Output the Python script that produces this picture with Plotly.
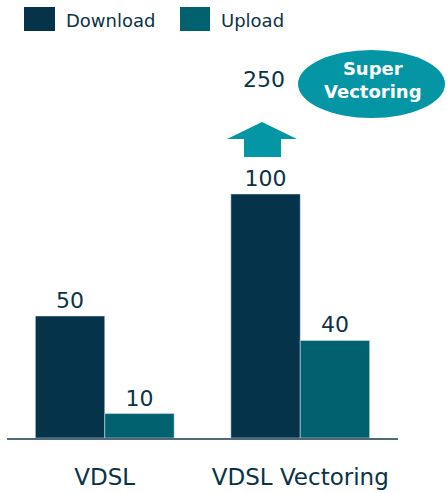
import plotly.graph_objects as go

categories = ["VDSL", "VDSL Vectoring"]
download = [50, 100]
upload = [10, 40]
super_value = "250"

W, H = 447, 493
ML, MR, MT, MB = 7, 49, 40, 55
PW = W - ML - MR
PH = H - MT - MB

def px(x):
    return (x - ML) / PW

def py(y):
    return (H - MB - y) / PH

C_DOWN = "#04334a"
C_UP = "#02616f"
C_ACC = "#0596a6"
C_TXT = "#0b3345"
FONT = "DejaVu Sans"

fig = go.Figure()
fig.add_trace(go.Bar(x=categories, y=download, name="Download", marker_color=C_DOWN,
                     text=[str(v) for v in download], textposition="outside",
                     textfont=dict(size=22, color=C_TXT), cliponaxis=False))
fig.add_trace(go.Bar(x=categories, y=upload, name="Upload", marker_color=C_UP,
                     text=[str(v) for v in upload], textposition="outside",
                     textfont=dict(size=22, color=C_TXT), cliponaxis=False))

shapes = []
annotations = []
# legend
shapes.append(dict(type="rect", xref="paper", yref="paper", x0=px(24), x1=px(55), y0=py(31), y1=py(7),
                   fillcolor=C_DOWN, line=dict(width=0)))
shapes.append(dict(type="rect", xref="paper", yref="paper", x0=px(180), x1=px(210), y0=py(31), y1=py(7),
                   fillcolor=C_UP, line=dict(width=0)))
annotations.append(dict(text="Download", xref="paper", yref="paper", x=px(64), y=py(20), xanchor="left",
                        yanchor="middle", showarrow=False, font=dict(size=18, color=C_TXT, family=FONT)))
annotations.append(dict(text="Upload", xref="paper", yref="paper", x=px(219), y=py(20), xanchor="left",
                        yanchor="middle", showarrow=False, font=dict(size=18, color=C_TXT, family=FONT)))
# arrow
pts = [(227, 139), (262, 122), (297, 139), (281, 139), (281, 157), (244, 157), (244, 139)]
path = "M " + " L ".join(f"{px(a):.5f},{py(b):.5f}" for a, b in pts) + " Z"
shapes.append(dict(type="path", xref="paper", yref="paper", path=path, fillcolor=C_ACC, line=dict(width=0)))
# ellipse
shapes.append(dict(type="circle", xref="paper", yref="paper", x0=px(298), x1=px(445), y0=py(118), y1=py(50),
                   fillcolor=C_ACC, line=dict(width=0)))
annotations.append(dict(text="<b>Super<br>Vectoring</b>", xref="paper", yref="paper", x=px(373), y=py(80),
                        xanchor="center", yanchor="middle", showarrow=False,
                        font=dict(size=18, color="white", family=FONT)))
annotations.append(dict(text=super_value, xref="paper", yref="paper", x=px(264), y=py(79),
                        xanchor="center", yanchor="middle", showarrow=False,
                        font=dict(size=22, color=C_TXT, family=FONT)))

fig.update_layout(
    width=W, height=H,
    margin=dict(l=ML, r=MR, t=MT, b=MB, pad=0, autoexpand=False),
    paper_bgcolor="white", plot_bgcolor="white",
    barmode="group", bargap=0.29, bargroupgap=0,
    showlegend=False,
    font=dict(family=FONT, color=C_TXT),
    shapes=shapes, annotations=annotations,
    xaxis=dict(showline=True, linecolor="#4f6a78", linewidth=1.5, ticks="",
               tickfont=dict(size=23, color=C_TXT), ticklabelstandoff=18, automargin=False,
               range=[-0.5, 1.5], showgrid=False),
    yaxis=dict(range=[0, PH / 2.44], visible=False, showgrid=False, zeroline=False, automargin=False),
)

fig.write_html("out.html")
